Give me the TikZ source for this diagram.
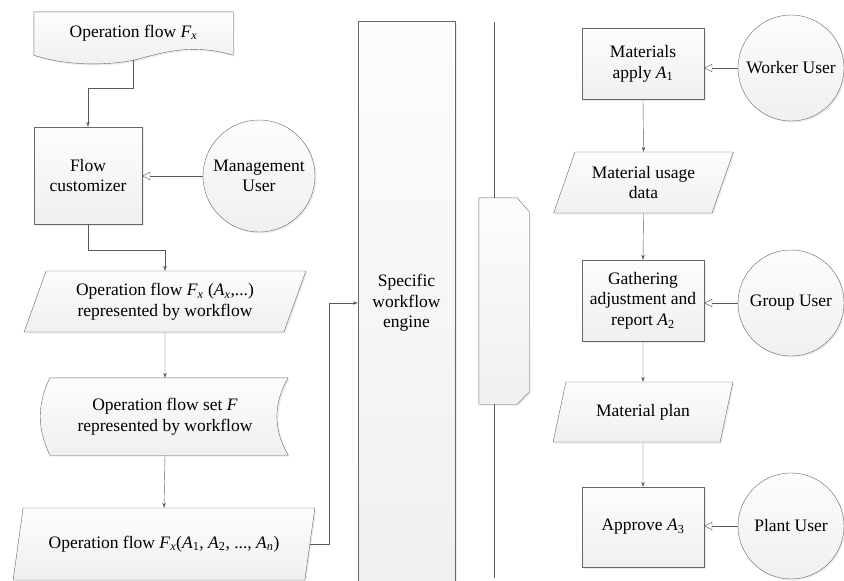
\documentclass[tikz,border=0pt]{standalone}
\usepackage{fontspec}
\setmainfont{Liberation Serif}
\usetikzlibrary{shapes.geometric,arrows.meta,calc,shadows}

\newcommand\fsub[2]{\textit{#1}\textsubscript{#2}}

\tikzset{
  shade box/.style={draw=black!60, top color=gray!2, bottom color=gray!12,
    drop shadow={opacity=0.15, shadow xshift=1.5pt, shadow yshift=-1.5pt}},
  procbox/.style={shade box, rectangle, align=center, inner sep=0pt},
  databox/.style={shade box, trapezium, trapezium left angle=64, trapezium right angle=116,
    trapezium stretches=true, align=center, inner sep=0pt},
  userball/.style={shade box, circle, align=center, inner sep=0pt, minimum size=106pt},
  flow/.style={draw=black!65, -{Stealth[length=5pt,width=3.5pt]}},
  usr/.style={draw=black!65, -{Triangle[open,length=8pt,width=8pt]}},
  plain/.style={draw=black!65}
}

\begin{document}
\begin{tikzpicture}[x=1pt, y=-1pt, font=\rmfamily\fontsize{17.5}{20.7}\selectfont]
\useasboundingbox (0,0) rectangle (844,581);

% left column
\node (fx) [minimum width=199pt, minimum height=48pt, inner sep=0pt] at (133.5,36) {};
\draw [shade box] (fx.north west) -- (fx.north east) -- ($(fx.south east)+(0,-5)$)
  .. controls ($(fx.south)+(55,-18)$) and ($(fx.south)+(25,-6)$) .. (fx.south)
  .. controls ($(fx.south)+(-30,6)$) and ($(fx.south)+(-70,5)$) .. ($(fx.south west)+(0,-5)$) -- cycle;
\node at ($(fx.center)+(0,-3)$) {Operation flow \fsub{F}{\textit{x}}};

\node (cust) [procbox, minimum width=108pt, minimum height=97pt] at (88,175.5) {Flow\\customizer};
\node (mgr) [userball, minimum size=112pt] at (259,176) {Management\\User};

\node (fxw) [databox, trapezium left angle=66, trapezium right angle=114,
  minimum width=282pt, minimum height=61pt] at (165,301.5)
  {Operation flow \fsub{F}{\textit{x}} (\fsub{A}{\textit{x}},...)\\represented by workflow};

\node (set) [minimum width=246pt, minimum height=77pt, inner sep=0pt] at (165,416.5) {};
\draw [shade box] ($(set.north west)+(8,0)$) -- (set.north east) to[bend right=30] (set.south east)
  -- ($(set.south west)+(8,0)$) to[bend left=25] ($(set.north west)+(8,0)$) -- cycle;
\node [align=center] at (set.center) {Operation flow set \textit{F}\\represented by workflow};

\node (fxa) [databox, trapezium left angle=63, trapezium right angle=117,
  minimum width=302pt, minimum height=72pt] at (164,544)
  {Operation flow \fsub{F}{\textit{x}}(\fsub{A}{1}, \fsub{A}{2}, ..., \fsub{A}{\textit{n}})};

% engine and bus
\node (eng) [procbox, minimum width=97pt, minimum height=564pt] at (406.5,303) {Specific\\workflow\\engine};

\coordinate (ltop) at (494,22);
\coordinate (lbot) at (494,578);
\node (disp) [minimum width=50pt, minimum height=206pt, inner sep=0pt] at (504,301) {};
\draw [shade box] (disp.north west) -- ($(disp.north east)+(-12,0)$) -- ($(disp.north east)+(0,14)$)
  -- ($(disp.south east)+(0,-12)$) -- ($(disp.south east)+(-12,0)$) -- (disp.south west) -- cycle;
\draw [plain] (ltop) -- (ltop |- disp.north);
\draw [plain] (lbot |- disp.south) -- (lbot);

% right column
\node (mat) [procbox, minimum width=122pt, minimum height=71pt] at (643,63.5) {Materials\\apply \fsub{A}{1}};
\node (worker) [userball] at (791,68) {Worker User};
\node (usage) [databox, minimum width=180pt, minimum height=61pt] at (643.5,182.5) {Material usage\\data};
\node (gather) [procbox, minimum width=122pt, minimum height=81pt] at (643,300.5)
  {Gathering\\adjustment and\\report \fsub{A}{2}};
\node (group) [userball] at (791,303) {Group User};
\node (plan) [databox, minimum width=180pt, minimum height=60pt] at (643,412) {Material plan};
\node (approve) [procbox, minimum width=122pt, minimum height=80pt] at (643,527) {Approve \fsub{A}{3}};
\node (plant) [userball] at (791,526) {Plant User};

% connectors
\draw [flow] (fx.south) -- ++(0,28) -| (cust.north);
\draw [usr] (mgr.west) -- (mgr.west -| cust.east);
\draw [flow] (cust.south) -- ++(0,26) -| (fxw.north);
\draw [flow] (fxw.south) -- (set.north);
\draw [flow] (set.south) -- (fxa.north);
\draw [flow] (fxa.east) -- ++(19,0) |- (eng.west);

\draw [usr] (worker.west) -- (worker.west -| mat.east);
\draw [flow] (mat.south) -- (usage.north);
\draw [flow] (usage.south) -- (gather.north);
\draw [usr] (group.west) -- (group.west -| gather.east);
\draw [flow] (gather.south) -- (plan.north);
\draw [flow] (plan.south) -- (approve.north);
\draw [usr] (plant.west) -- (plant.west -| approve.east);
\end{tikzpicture}
\end{document}
